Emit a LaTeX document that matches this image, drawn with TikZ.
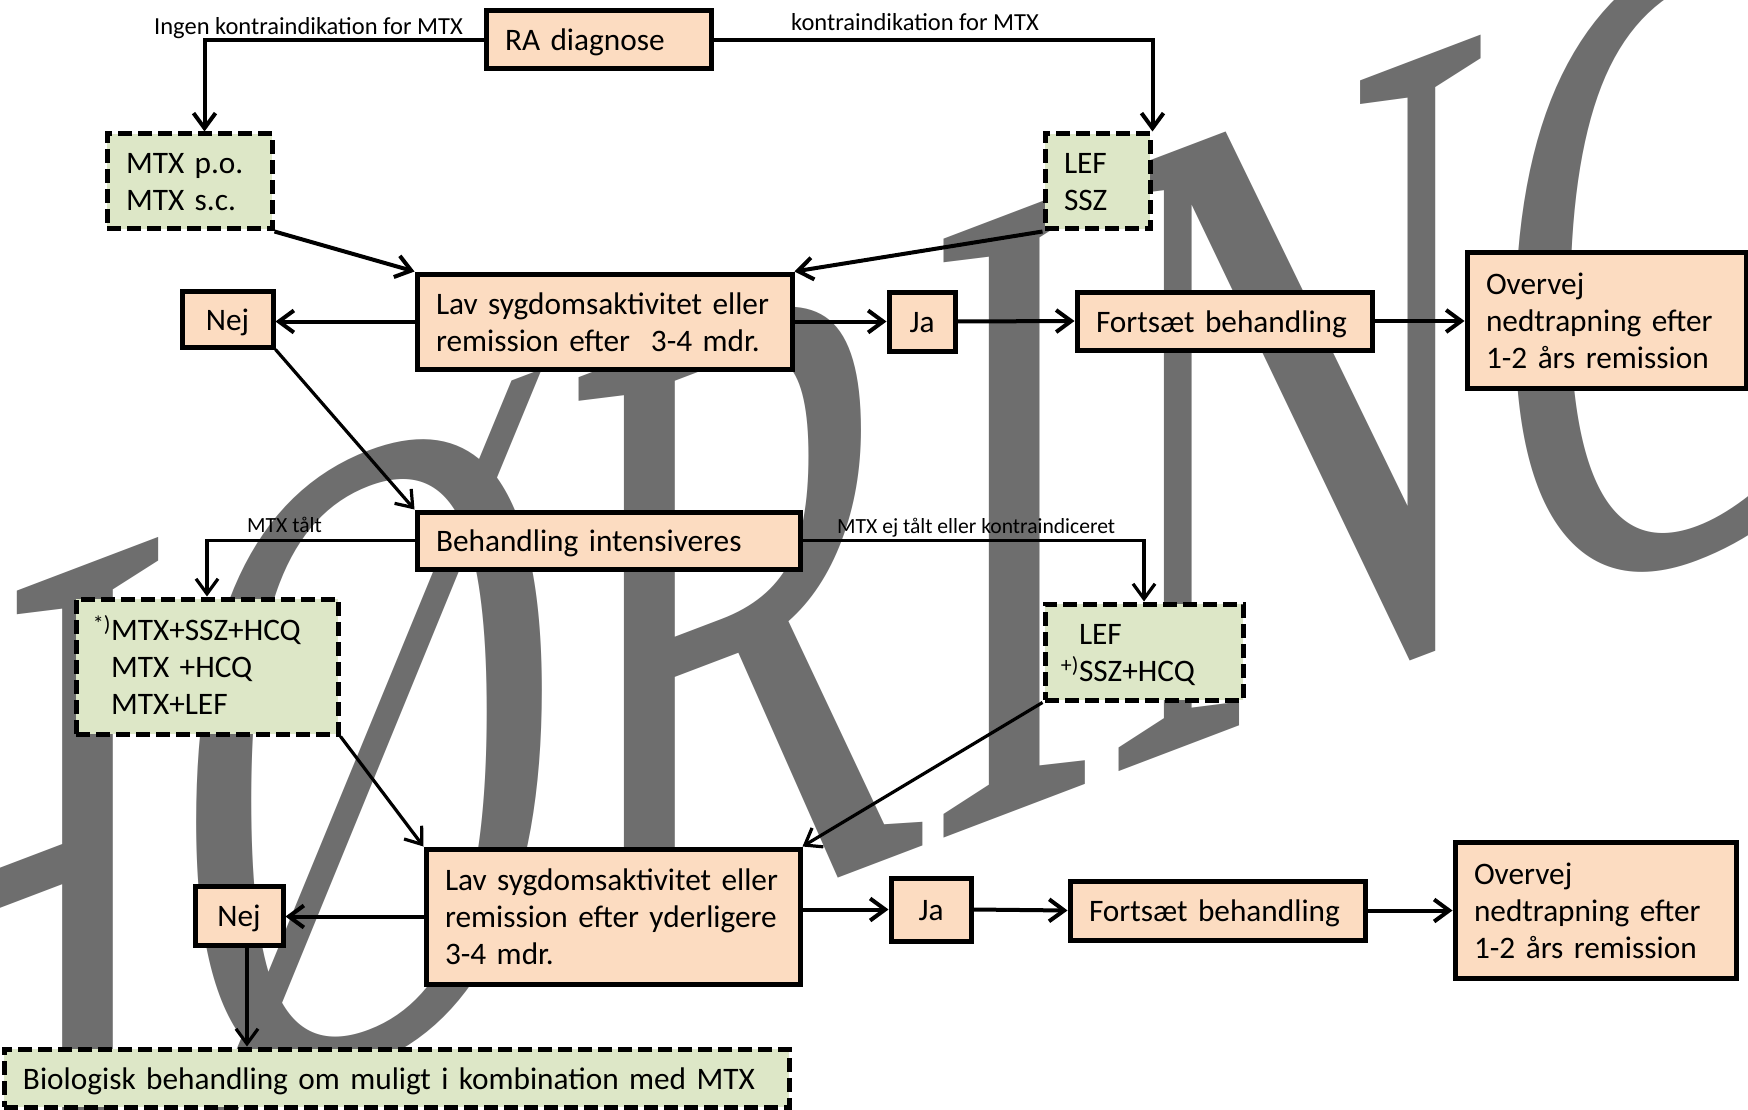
\documentclass[tikz,border=0pt]{standalone}
\usepackage{fontspec}
\setmainfont{Carlito}
\newfontfamily\wmfont{Liberation Serif}
\usetikzlibrary{arrows.meta}
\definecolor{peach}{RGB}{252,220,193}
\definecolor{sage}{RGB}{221,231,199}
\definecolor{wmgray}{RGB}{110,110,110}
\newcommand\oneline[1]{\mbox{#1}}
\begin{document}
\begin{tikzpicture}[x=1pt,y=-1pt,
  pbox/.style={draw=black, line width=5pt, fill=peach, inner xsep=19pt, inner ysep=0pt,
    font=\fontsize{31.3}{37}\selectfont, align=left,
    execute at begin node={\rule{0pt}{30pt}},
    execute at end node={\rule[-8pt]{0pt}{8pt}}},
  gbox/.style={pbox, fill=sage, dash pattern=on 14pt off 6pt},
  cbox/.style={pbox, inner xsep=0pt, align=center},
  conn/.style={line width=4pt, -{Straight Barb[length=15pt,width=22pt]}},
  thinconn/.style={conn, line width=3.2pt},
  lbl/.style={inner sep=0pt, font=\fontsize{24.5}{27}\selectfont},
  lbls/.style={inner sep=0pt, font=\fontsize{21.6}{24}\selectfont},
  wm/.style={inner sep=0pt, anchor=base west, text=wmgray,
    font=\wmfont\fontsize{540}{600}\selectfont, cm={1,0.38,0,1.694,(0,0)}}
]
\useasboundingbox (0,0) rectangle (1748,1110);
\fill[white] (0,0) rectangle (1748,1110);
\begin{scope}
\clip (0,0) rectangle (1748,1110);
\node[wm] (watermark) at (-216,1279) {HØRING};
\end{scope}

% boxes
\node[pbox, minimum width=225pt, minimum height=58pt, text width=187pt] (ra) at (598.5,40) {RA diagnose};
\node[gbox, minimum width=165pt, minimum height=95pt, text width=127pt] (mtx) at (189.5,181.5) {\oneline{MTX p.o.}\\\oneline{MTX s.c.}};
\node[gbox, minimum width=105pt, minimum height=95pt, text width=67pt] (lef) at (1097.5,181.5) {LEF\\SSZ};
\node[pbox, minimum width=375pt, minimum height=95pt, text width=337pt] (lav1) at (604.5,321.5) {\oneline{Lav sygdomsaktivitet eller}\\\oneline{remission efter\ \ 3-4 mdr.}};
\node[cbox, minimum width=91pt, minimum height=56pt, text width=91pt] (nej1) at (227.5,319) {Nej};
\node[cbox, minimum width=66pt, minimum height=59pt, text width=66pt] (ja1) at (922,321.5) {Ja};
\node[pbox, minimum width=295pt, minimum height=58pt, text width=257pt] (f1) at (1224.5,321) {\oneline{Fortsæt behandling}};
\node[pbox, minimum width=279pt, minimum height=136pt, text width=241pt] (o1) at (1606.5,320) {Overvej\\\oneline{nedtrapning efter}\\\oneline{1-2 års remission}};
\node[pbox, minimum width=383pt, minimum height=57pt, text width=345pt] (beh) at (608.5,540.5) {\oneline{Behandling intensiveres}};
\node[gbox, inner xsep=35pt, minimum width=262pt, minimum height=135pt, text width=192pt] (comb) at (207,666.5) {\oneline{\llap{\textsuperscript{*)}}MTX+SSZ+HCQ}\\\oneline{MTX +HCQ}\\\oneline{MTX+LEF}};
\node[gbox, inner xsep=34pt, minimum width=198pt, minimum height=96pt, text width=130pt] (lef2) at (1144,652) {LEF\\\oneline{\llap{\textsuperscript{+)}}SSZ+HCQ}};
\node[pbox, minimum width=374pt, minimum height=135pt, text width=336pt] (lav2) at (613,916.5) {\oneline{Lav sygdomsaktivitet eller}\\\oneline{remission efter yderligere}\\3-4 mdr.};
\node[cbox, minimum width=88pt, minimum height=59pt, text width=88pt] (nej2) at (239,915.5) {Nej};
\node[cbox, minimum width=80pt, minimum height=63pt, text width=80pt] (ja2) at (931,909.5) {Ja};
\node[pbox, minimum width=295pt, minimum height=59pt, text width=257pt] (f2) at (1217.5,910.5) {\oneline{Fortsæt behandling}};
\node[pbox, minimum width=281pt, minimum height=136pt, text width=243pt] (o2) at (1595.5,910) {Overvej\\\oneline{nedtrapning efter}\\\oneline{1-2 års remission}};
\node[gbox, minimum width=785pt, minimum height=58pt, text width=747pt] (bio) at (396.5,1078) {\oneline{Biologisk behandling om muligt i kombination med MTX}};

% labels
\node[lbl, anchor=base east] (l1) at (463,35) {Ingen kontraindikation for MTX};
\node[lbl, anchor=base west] (l2) at (791,31) {kontraindikation for MTX};
\node[lbls, anchor=base west] (l3) at (247,532) {MTX tålt};
\node[lbls, anchor=base west] (l4) at (837,533) {MTX ej tålt eller kontraindiceret};

% connectors
\draw[conn] (ra.west) -| ([xshift=15pt]mtx.north);
\draw[conn] (ra.east) -| (lef.north east);
\draw[conn] (mtx.south east) -- (lav1.north west);
\draw[conn] (lef.south west) -- (lav1.north east);
\draw[conn] (lav1.west) -- (lav1.west -| nej1.east);
\draw[conn] (lav1.east) -- (ja1.west);
\draw[conn] (ja1.east) -- (f1.west);
\draw[conn] (f1.east) -- (f1.east -| o1.west);
\draw[thinconn] (nej1.south east) -- (beh.north west);
\draw[thinconn] (beh.west) -| (comb.north);
\draw[thinconn] (beh.east) -| (lef2.north);
\draw[thinconn] (comb.south east) -- (lav2.north west);
\draw[thinconn] (lef2.south west) -- (lav2.north east);
\draw[conn] (lav2.west) -- (lav2.west -| nej2.east);
\draw[conn] (lav2.east |- ja2.west) -- (ja2.west);
\draw[conn] (ja2.east) -- (f2.west);
\draw[conn] (f2.east) -- (f2.east -| o2.west);
\draw[thinconn] ([xshift=8pt]nej2.south) -- ([xshift=8pt]nej2.south |- bio.north);
\end{tikzpicture}
\end{document}
